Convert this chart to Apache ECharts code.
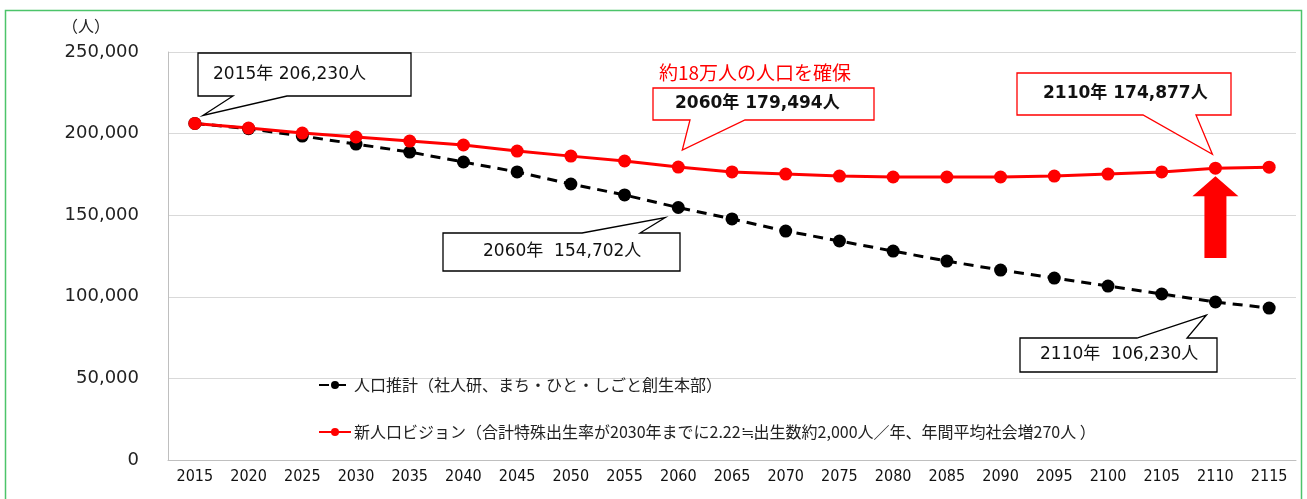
<!DOCTYPE html>
<html>
<head>
<meta charset="utf-8">
<script src="https://cdn.jsdelivr.net/npm/echarts@6/dist/echarts.min.js"></script>
<style>
  html, body { margin: 0; padding: 0; background: #fff; }
  #chart { width: 1307px; height: 499px; }
</style>
</head>
<body>
<div id="chart"></div>
<script>
// years on the x axis
const years = ['2015', '2020', '2025', '2030', '2035', '2040', '2045', '2050', '2055', '2060',
  '2065', '2070', '2075', '2080', '2085', '2090', '2095', '2100', '2105', '2110', '2115'];

// 人口推計 (black dashed)
const projection = [206230, 203000, 198500, 193600, 188700, 182600, 176500, 169100, 162400, 154702,
  147700, 140300, 134200, 128000, 121900, 116400, 111500, 106600, 101700, 96800, 93100];

// 新人口ビジョン (red)
const vision = [206230, 203400, 200300, 197900, 195400, 193000, 189300, 186200, 183200, 179494,
  176500, 175200, 174000, 173400, 173400, 173400, 174000, 175200, 176500, 178800, 179400];

const seriesNames = [
  '人口推計（社人研、まち・ひと・しごと創生本部）',
  '新人口ビジョン（合計特殊出生率が2030年までに2.22≒出生数約2,000人／年、年間平均社会増270人 ）'
];

const calloutTexts = ['2015年 206,230人', '2060年 179,494人', '2110年 174,877人', '2060年  154,702人', '2110年  106,230人'];
const noteText = '約18万人の人口を確保';

const numFont = '"DejaVu Sans", "Noto Sans CJK JP", sans-serif';
const jpFont = '"Noto Sans CJK JP", sans-serif';

const chart = echarts.init(document.getElementById('chart'));

chart.setOption({
  animation: false,
  backgroundColor: '#fff',
  grid: { left: 168, right: 11, top: 52, bottom: 39 },
  legend: {
    orient: 'vertical',
    left: 313,
    top: 372,
    itemWidth: 32,
    itemHeight: 10,
    itemGap: 31,
    textStyle: { fontFamily: jpFont, fontSize: 16, color: '#222', padding: [0, 0, 0, -2] },
    data: seriesNames
  },
  xAxis: {
    type: 'category',
    data: years,
    boundaryGap: true,
    axisLine: { lineStyle: { color: '#bfbfbf' } },
    axisTick: { show: false },
    axisLabel: {
      interval: 0,
      margin: 9,
      color: '#111',
      fontSize: 16,
      fontFamily: '"DejaVu Sans Condensed", "Liberation Sans Narrow", sans-serif'
    }
  },
  yAxis: {
    type: 'value',
    min: 0,
    max: 250000,
    interval: 50000,
    axisLine: { show: true, lineStyle: { color: '#bfbfbf' } },
    axisTick: { show: false },
    splitLine: { lineStyle: { color: '#d9d9d9' } },
    axisLabel: {
      margin: 29,
      color: '#222',
      fontSize: 18,
      fontFamily: numFont,
      formatter: v => v.toLocaleString('en-US')
    }
  },
  series: [
    {
      name: seriesNames[0],
      type: 'line',
      data: projection,
      symbol: 'circle',
      symbolSize: 13,
      itemStyle: { color: '#000' },
      lineStyle: { color: '#000', width: 3, type: [10, 7] }
    },
    {
      name: seriesNames[1],
      type: 'line',
      data: vision,
      symbol: 'circle',
      symbolSize: 13,
      itemStyle: { color: '#ff0000' },
      lineStyle: { color: '#ff0000', width: 3 }
    }
  ]
});

// pixel of a data point
function pt(series, i) {
  const v = series === 0 ? projection[i] : vision[i];
  return chart.convertToPixel({ gridIndex: 0 }, [i, v]);
}

// box with a tail; side 'bottom' or 'top'
function callout(box, tail, tip, color, text, textX, bold) {
  const [x1, y1, x2, y2] = box;
  let points;
  if (tail.side === 'bottom') {
    points = [[x1, y1], [x2, y1], [x2, y2], [tail.b, y2], tip, [tail.a, y2], [x1, y2]];
  } else {
    points = [[x1, y1], [tail.a, y1], tip, [tail.b, y1], [x2, y1], [x2, y2], [x1, y2]];
  }
  return [
    {
      type: 'polygon',
      shape: { points: points },
      style: { fill: '#fff', stroke: color, lineWidth: 1.3 },
      z: 100
    },
    {
      type: 'text',
      x: textX,
      y: (y1 + y2) / 2,
      style: {
        text: text,
        fill: '#111',
        font: (bold ? 'bold ' : '') + '17px ' + numFont,
        verticalAlign: 'middle'
      },
      z: 101
    }
  ];
}

const i2015 = 0, i2060 = 9, i2110 = 19;
const p1 = pt(1, i2015), p2 = pt(1, i2060), p3 = pt(1, i2110);
const p4 = pt(0, i2060), p5 = pt(0, i2110);

const arrowTipY = p3[1] + 8;
const graphics = [
  // outer green frame
  {
    type: 'rect',
    shape: { x: 5.5, y: 10.5, width: 1296, height: 510 },
    style: { fill: 'none', stroke: '#4cc46a', lineWidth: 1.5 },
    z: 0
  },
  {
    type: 'text',
    x: 62,
    y: 26,
    style: { text: '（人）', fill: '#222', font: '16px ' + jpFont, verticalAlign: 'middle' }
  },
  {
    type: 'text',
    x: 659,
    y: 73,
    style: { text: noteText, fill: '#ff0000', font: '19px ' + jpFont, verticalAlign: 'middle' },
    z: 101
  },
  // red up arrow under the 2110 point
  {
    type: 'polygon',
    shape: {
      points: [
        [p3[0], arrowTipY],
        [p3[0] + 23, arrowTipY + 20],
        [p3[0] + 11, arrowTipY + 20],
        [p3[0] + 11, 258],
        [p3[0] - 11, 258],
        [p3[0] - 11, arrowTipY + 20],
        [p3[0] - 23, arrowTipY + 20]
      ]
    },
    style: { fill: '#ff0000' },
    z: 102
  }
]
  .concat(callout([198, 53, 411, 96], { side: 'bottom', a: 233, b: 287 }, [p1[0] + 8, p1[1] - 8], '#000', calloutTexts[0], 213, false))
  .concat(callout([653, 88, 874, 120], { side: 'bottom', a: 690, b: 745 }, [p2[0] + 4, p2[1] - 17], '#ff0000', calloutTexts[1], 675, true))
  .concat(callout([1017, 73, 1231, 115], { side: 'bottom', a: 1143, b: 1196 }, [p3[0] - 3, p3[1] - 14], '#ff0000', calloutTexts[2], 1043, true))
  .concat(callout([443, 233, 680, 271], { side: 'top', a: 582, b: 640 }, [p4[0] - 13, p4[1] + 10], '#000', calloutTexts[3], 483, false))
  .concat(callout([1020, 338, 1217, 372], { side: 'top', a: 1137, b: 1187 }, [p5[0] - 9, p5[1] + 13], '#000', calloutTexts[4], 1040, false));

chart.setOption({ graphic: graphics });
</script>
</body>
</html>
